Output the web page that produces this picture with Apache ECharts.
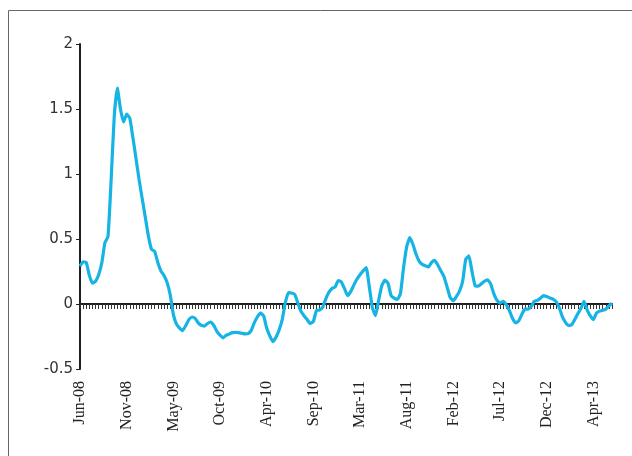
<!DOCTYPE html>
<html>
<head>
<meta charset="utf-8">
<script src="https://cdn.jsdelivr.net/npm/echarts@6/dist/echarts.min.js"></script>
<style>
  html, body { margin: 0; padding: 0; background: #fff; }
  #chart { width: 632px; height: 456px; }
</style>
</head>
<body>
<div id="chart"></div>
<script>
// one label every 15 periods
const tickLabels = ['Jun-08', 'Nov-08', 'May-09', 'Oct-09', 'Apr-10', 'Sep-10',
    'Mar-11', 'Aug-11', 'Feb-12', 'Jul-12', 'Dec-12', 'Apr-13'];
const labelStep = 15;

const values = [
    0.29, 0.325, 0.32, 0.22, 0.16, 0.175, 0.225, 0.315, 0.47, 0.52,
    0.95, 1.44, 1.66, 1.50, 1.40, 1.46, 1.43, 1.28, 1.12, 0.955,
    0.81, 0.665, 0.52, 0.42, 0.405, 0.32, 0.255, 0.22, 0.165, 0.07,
    -0.08, -0.155, -0.185, -0.205, -0.165, -0.12, -0.10, -0.11, -0.145, -0.165,
    -0.17, -0.15, -0.14, -0.165, -0.21, -0.24, -0.26, -0.24, -0.23, -0.22,
    -0.218, -0.22, -0.225, -0.23, -0.228, -0.205, -0.145, -0.10, -0.07, -0.09,
    -0.185, -0.245, -0.29, -0.255, -0.20, -0.12, 0.01, 0.087, 0.085, 0.075,
    0.01, -0.055, -0.09, -0.12, -0.15, -0.135, -0.05, -0.046, -0.025, 0.04,
    0.09, 0.12, 0.13, 0.18, 0.17, 0.12, 0.065, 0.095, 0.145, 0.19,
    0.225, 0.255, 0.28, 0.13, -0.03, -0.09, 0.03, 0.14, 0.183, 0.16,
    0.065, 0.045, 0.035, 0.08, 0.28, 0.44, 0.51, 0.46, 0.385, 0.33,
    0.305, 0.295, 0.285, 0.32, 0.335, 0.30, 0.255, 0.21, 0.13, 0.05,
    0.025, 0.058, 0.10, 0.175, 0.345, 0.37, 0.25, 0.14, 0.137, 0.155,
    0.175, 0.185, 0.155, 0.08, 0.03, 0.007, 0.02, -0.005, -0.05, -0.11,
    -0.145, -0.13, -0.08, -0.04, -0.04, -0.02, 0.02, 0.028, 0.045, 0.065,
    0.057, 0.047, 0.038, 0.02, -0.025, -0.095, -0.14, -0.165, -0.16, -0.12,
    -0.075, -0.035, 0.02, -0.045, -0.09, -0.12, -0.07, -0.055, -0.048, -0.04,
    -0.015, 0.005
];

const periods = values.map((v, i) => 'p' + i);

const chart = echarts.init(document.getElementById('chart'));
const option = {
    animation: false,
    backgroundColor: '#fff',
    graphic: [{
        type: 'rect',
        shape: { x: 8.5, y: 10.5, width: 640, height: 460 },
        style: { fill: 'none', stroke: '#666', lineWidth: 1 }
    }],
    grid: { left: 80, right: 20, top: 44, bottom: 87 },
    xAxis: [{
        type: 'category',
        data: periods,
        boundaryGap: false,
        axisLine: { onZero: true, lineStyle: { color: '#231f20', width: 2 } },
        axisTick: { show: true, interval: 0, length: 5, lineStyle: { color: '#333', width: 1 } },
        axisLabel: { show: false }
    }, {
        type: 'category',
        data: periods,
        boundaryGap: false,
        position: 'bottom',
        axisLine: { show: false, onZero: false },
        axisTick: { show: false },
        axisLabel: {
            interval: labelStep - 1,
            rotate: 90,
            margin: 12,
            color: '#222',
            fontFamily: 'Liberation Serif',
            fontSize: 16,
            formatter: function (val, idx) {
                return tickLabels[idx / labelStep] || '';
            }
        }
    }],
    yAxis: {
        type: 'value',
        min: -0.5,
        max: 2,
        interval: 0.5,
        splitLine: { show: false },
        axisLine: { show: true, lineStyle: { color: '#231f20', width: 2 } },
        axisTick: { show: true, length: 4, lineStyle: { color: '#231f20', width: 1 } },
        axisLabel: {
            margin: 7,
            color: '#333',
            fontFamily: 'DejaVu Sans',
            fontSize: 15
        }
    },
    series: [{
        type: 'line',
        xAxisIndex: 0,
        data: values,
        showSymbol: false,
        smooth: 0.15,
        lineStyle: { color: '#16b4e4', width: 3.2 }
    }]
};

chart.setOption(option);
</script>
</body>
</html>
